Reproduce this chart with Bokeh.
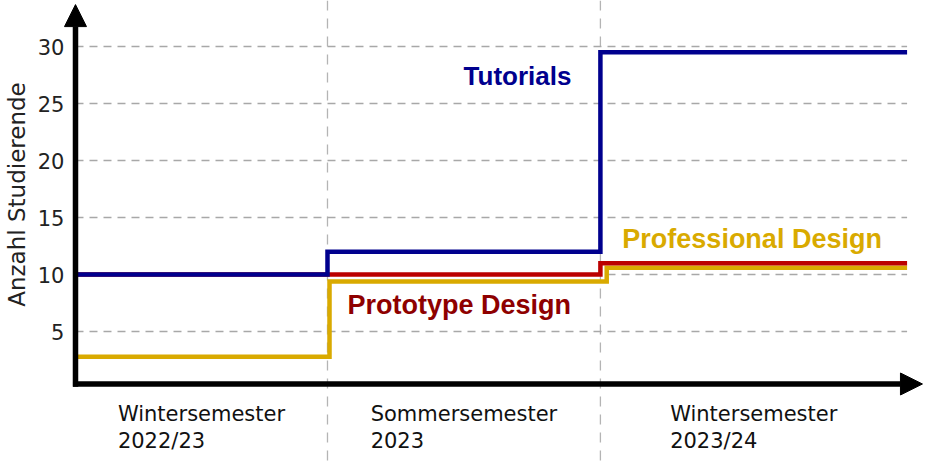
from bokeh.plotting import figure
from bokeh.models import Arrow, NormalHead, Span, Range1d, ColumnDataSource
from bokeh.core.properties import value
from bokeh.embed import file_html
from bokeh.resources import INLINE

# ---- data ----
semesters = ["Wintersemester\n2022/23", "Sommersemester\n2023", "Wintersemester\n2023/24"]
edges = [0.0, 1.0, 2.083, 3.3]          # semester boundaries (arbitrary time units)
edges_prof = [0.0, 1.008, 2.108, 3.3]   # slightly shifted steps for readability
tutorials = [10, 12, 29.5]
prototype = [10, 10, 11]
professional = [2.8, 9.4, 10.6]
y_ticks = [5, 10, 15, 20, 25, 30]
y_tick_labels = ["5", "10", "15", "20", "25", "30"]

BLUE = "#00008e"
RED = "#bb0000"
RED_TXT = "#8e0000"
GOLD = "#d9aa00"
FONT = "DejaVu Sans"
BOLD = "Liberation Sans"

p = figure(width=930, height=465, output_backend="svg", toolbar_location=None,
           x_range=Range1d(-0.2976, 3.3929), y_range=Range1d(-6.75, 34.04),
           min_border=0)
p.outline_line_color = None
p.axis.visible = False
p.grid.visible = False

# horizontal dashed grid lines
p.segment(x0=[edges[0]] * len(y_ticks), x1=[edges[-1]] * len(y_ticks), y0=y_ticks, y1=y_ticks,
          line_color="#a8a8a8", line_width=1.5, line_dash="8 6")

# vertical semester boundaries (below the data lines)
for b in edges[1:-1]:
    p.add_layout(Span(location=b, dimension="height", line_color="#b4b4b4",
                      line_width=1.3, line_dash="10 8", level="underlay"))

# step lines built from the data
def step_path(ed, vals):
    xs, ys = [], []
    for i, v in enumerate(vals):
        xs += [ed[i], ed[i + 1]]
        ys += [v, v]
    return xs, ys

x, y = step_path(edges_prof, professional)
p.line(x, y, line_color=GOLD, line_width=4.5, line_join="miter")
x, y = step_path(edges, prototype)
p.line(x, y, line_color=RED, line_width=4.5, line_join="miter")
x, y = step_path(edges, tutorials)
p.line(x, y, line_color=BLUE, line_width=4.5, line_join="miter")

# series labels
p.text(x=[1.54], y=[27.46], text=["Tutorials"], text_color=BLUE, text_font=value(BOLD),
       text_font_style="bold", text_font_size="26px", text_baseline="alphabetic", text_align="left")
p.text(x=[1.079], y=[7.37], text=["Prototype Design"], text_color=RED_TXT, text_font=value(BOLD),
       text_font_style="bold", text_font_size="27px", text_baseline="alphabetic", text_align="left")
p.text(x=[2.17], y=[13.16], text=["Professional Design"], text_color=GOLD, text_font=value(BOLD),
       text_font_style="bold", text_font_size="27px", text_baseline="alphabetic", text_align="left")

# y tick labels
p.text(x=[-0.0437] * len(y_ticks), y=y_ticks, text=y_tick_labels, text_align="right",
       text_baseline="middle", text_font=value(FONT), text_font_size="21px", text_color="#222222")

# y axis title
p.text(x=[-0.234], y=[17.02], text=["Anzahl Studierende"], angle=1.5708, text_align="center",
       text_baseline="middle", text_font=value(FONT), text_font_size="23px", text_color="#222222")

# semester labels (block centered in segment, lines left-aligned)
centers = [(edges[i] + edges[i + 1]) / 2 for i in range(len(semesters))]
src = ColumnDataSource(dict(x=centers, y=[-1.2] * len(centers), t=semesters))
p.text(x="x", y="y", text="t", source=src, anchor="top_center", text_align="left",
       text_font=value(FONT), text_font_size="21px", text_color="#111111",
       text_line_height=1.1)

# axes with arrows
base = 0.4
p.add_layout(Arrow(end=NormalHead(size=22, fill_color="black", line_color="black", line_width=1),
                   x_start=-0.01, y_start=base, x_end=3.361, y_end=base,
                   line_width=5.5, line_color="black"))
p.add_layout(Arrow(end=NormalHead(size=22, fill_color="black", line_color="black", line_width=1),
                   x_start=0, y_start=base - 0.24, x_end=0, y_end=33.68,
                   line_width=5.5, line_color="black"))

open("out.html", "w").write(file_html(p, INLINE))
